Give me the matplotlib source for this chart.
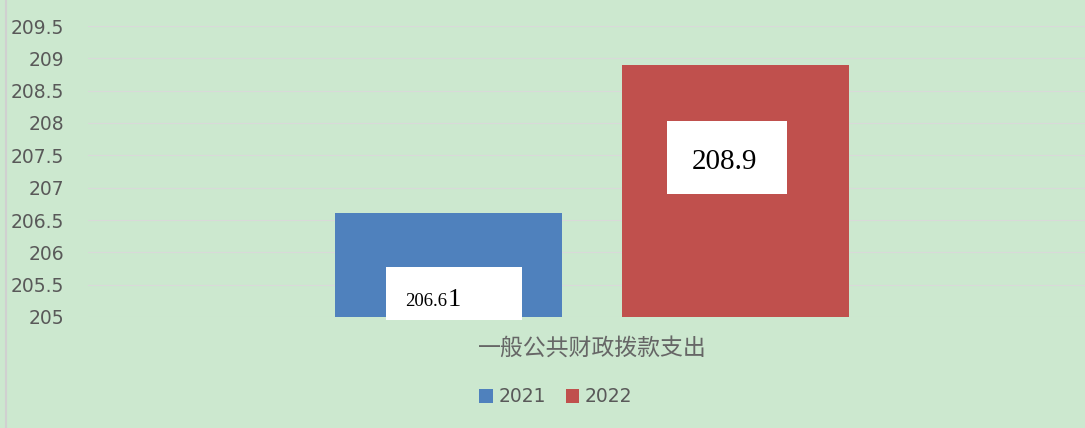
import matplotlib
matplotlib.use("Agg")
import matplotlib.pyplot as plt
from matplotlib.lines import Line2D
from matplotlib.offsetbox import AnnotationBbox, HPacker, TextArea, DrawingArea

plt.rcParams['font.family'] = ['DejaVu Sans', 'Noto Sans CJK SC']

# data
category = "一般公共财政拨款支出"
years = ["2021", "2022"]
values = [206.61, 208.9]
colors = ["#4F81BD", "#C0504D"]
yticks = [205, 205.5, 206, 206.5, 207, 207.5, 208, 208.5, 209, 209.5]

bg = "#CCE8CF"
grey = "#595959"

fig = plt.figure(figsize=(10.85, 4.28), dpi=100, facecolor=bg)
ax = fig.add_axes([88 / 1085, 111 / 428, 1 - 88 / 1085, (317 - 26) / 428])
ax.set_facecolor(bg)

xs = [0, 1]
bars = ax.bar(xs, values, width=0.79, color=colors, zorder=2, label=years)

ax.set_ylim(205, 209.5)
ax.set_xlim(-1.256, 2.218)
ax.set_yticks(yticks)
ax.set_yticklabels([f"{v:g}" for v in yticks])
ax.grid(axis="y", color="#D9D9D9", linewidth=0.8, zorder=0)
ax.tick_params(axis="y", length=0, pad=17, labelsize=13.5, labelcolor=grey)
ax.set_xticks([0.5])
ax.set_xticklabels([category], family=['Noto Sans CJK SC'], fontsize=16.5, color="#666666")
ax.tick_params(axis="x", length=0, pad=14)
for s in ax.spines.values():
    s.set_visible(False)

# data label boxes
def label_box(parts, left, right, height, desc):
    kids = [DrawingArea(left, height, 0, desc)]
    for txt, size in parts:
        kids.append(TextArea(txt, textprops=dict(family="Liberation Serif", fontsize=size, color="black")))
    kids.append(DrawingArea(right, height, 0, desc))
    return HPacker(children=kids, align="baseline", pad=0, sep=0)

blue_box = label_box([("206.6", 13.5), ("1", 19)], 14, 44, 38, 10)
red_box = label_box([("208.9", 21)], 18, 21, 52.5, 18)
for box, xy in [(blue_box, (0.019, 205.36)), (red_box, (0.97, 207.47))]:
    ab = AnnotationBbox(box, xy, xycoords="data", frameon=True, pad=0,
                        bboxprops=dict(facecolor="white", edgecolor="none", boxstyle="square,pad=0"),
                        annotation_clip=False, zorder=3)
    ax.add_artist(ab)

fig.legend(handles=bars, labels=years, loc="center", bbox_to_anchor=(556 / 1085, 1 - 397 / 428),
           ncol=2, frameon=False, fontsize=13.5, labelcolor=grey,
           handlelength=0.7, handleheight=0.7, handletextpad=0.3, columnspacing=1.1)

# left border
fig.add_artist(Line2D([5.5 / 1085, 5.5 / 1085], [0, 1], transform=fig.transFigure, color="#D0D0D0", linewidth=1.5))

fig.savefig("out.png", dpi=100, facecolor=bg)
